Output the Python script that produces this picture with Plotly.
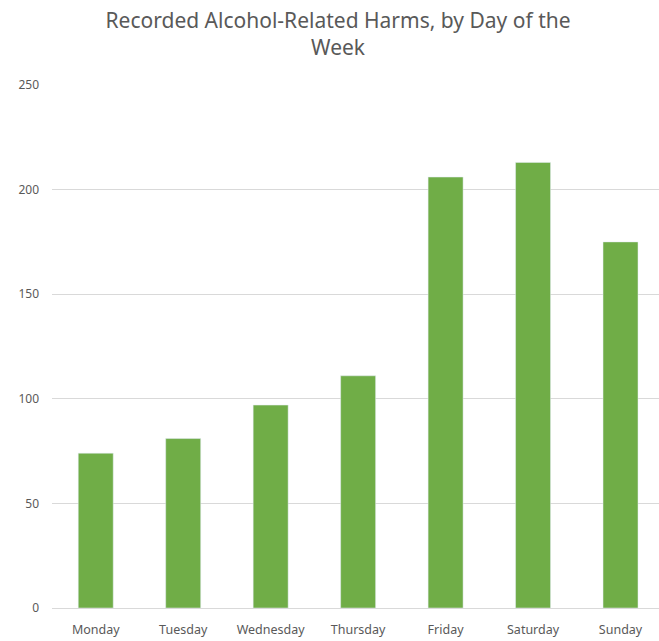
import plotly.graph_objects as go

days = ["Monday", "Tuesday", "Wednesday", "Thursday", "Friday", "Saturday", "Sunday"]
harms = [74, 81, 97, 111, 206, 213, 175]
y_ticks = [0, 50, 100, 150, 200, 250]

fig = go.Figure(go.Bar(x=days, y=harms, marker_color="#70AD47", width=0.4))

fig.update_layout(
    width=659, height=641,
    paper_bgcolor="white", plot_bgcolor="white",
    margin=dict(l=52, r=0, t=85, b=33),
    font=dict(family="Noto Sans", color="#595959", size=12),
    title=dict(text="Recorded Alcohol-Related Harms, by Day of the<br>Week",
               x=0.513, xanchor="center", y=1 - 28 / 641, yanchor="middle",
               yref="container",
               font=dict(size=21, color="#595959")),
    showlegend=False,
    bargap=0.6,
)
fig.update_xaxes(range=[-0.5, 6.44], showgrid=False, showline=False, ticks="",
                 ticklabelstandoff=12,
                 tickfont=dict(size=12.5, color="#595959"))
fig.update_yaxes(range=[0, 250], tickvals=y_ticks, showgrid=True, gridcolor="#d9d9d9",
                 gridwidth=1, zeroline=True, zerolinecolor="#d9d9d9", zerolinewidth=1,
                 showline=False, ticks="", ticklabelstandoff=12,
                 tickfont=dict(size=12, color="#595959"))

fig.write_html("out.html")
